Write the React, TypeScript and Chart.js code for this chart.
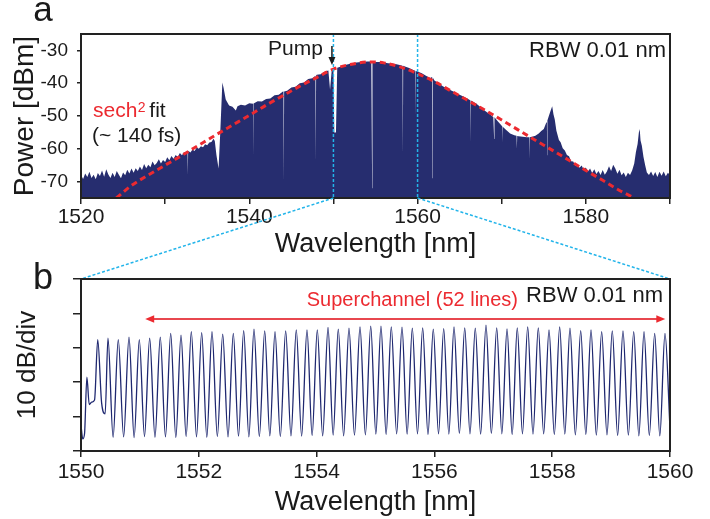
import React, { useEffect, useRef } from 'react';
import { Chart, registerables } from 'chart.js';

Chart.register(...registerables);

const FONT = '"Liberation Sans", Arial, Helvetica, sans-serif';
const INK = '#1a1a1a';
const NAVY = '#262d6f';
const LINE_NAVY = '#1f2870';
const CYAN = '#22b4ea';
const RED = '#ec2a30';
const ARROW_RED = '#e8474f';

// ---------- Panel a : broadband spectrum ----------
const A_X_MIN = 1520;
const A_X_MAX = 1590;
const A_Y_MIN = -75;
const A_Y_MAX = -25;
const A_X_TICK_LABELS = [1520, 1540, 1560, 1580];
const A_Y_TICKS = [-70, -60, -50, -40, -30];
const PUMP_WL = 1550;
const ZOOM_START = 1550;
const ZOOM_END = 1560;

const SPEC_WL = [
  1520.0, 1520.25, 1520.5, 1520.75, 1521.0, 1521.25, 1521.5, 1521.75, 1522.0, 1522.25,
  1522.5, 1522.75, 1523.0, 1523.25, 1523.5, 1523.75, 1524.0, 1524.25, 1524.5, 1524.75,
  1525.0, 1525.25, 1525.5, 1525.75, 1526.0, 1526.25, 1526.5, 1526.75, 1527.0, 1527.25,
  1527.5, 1527.75, 1528.0, 1528.25, 1528.5, 1528.75, 1529.0, 1529.25, 1529.5, 1529.75,
  1530.0, 1530.25, 1530.5, 1530.75, 1531.0, 1531.25, 1531.5, 1531.75, 1532.0, 1532.25,
  1532.5, 1532.75, 1533.0, 1533.25, 1533.5, 1533.75, 1534.0, 1534.25, 1534.5, 1534.75,
  1535.0, 1535.25, 1535.5, 1535.75, 1535.9, 1536.1, 1536.35, 1536.55, 1536.8, 1536.95,
  1537.2, 1537.6, 1538.0, 1538.4, 1538.6, 1539.0, 1539.5, 1540.0, 1540.5, 1541.0,
  1541.5, 1542.0, 1542.5, 1543.0, 1543.5, 1544.0, 1544.5, 1545.0, 1545.5, 1546.0,
  1546.5, 1547.0, 1547.5, 1548.0, 1548.5, 1549.0, 1549.4, 1549.6, 1549.8, 1550.0,
  1550.1, 1550.3, 1550.45, 1551.0, 1551.5, 1552.0, 1552.5, 1553.0, 1553.5, 1554.0,
  1554.5, 1555.0, 1555.5, 1556.0, 1556.5, 1557.0, 1557.5, 1558.0, 1558.5, 1559.0,
  1559.5, 1560.0, 1560.5, 1561.0, 1561.5, 1562.0, 1562.5, 1563.0, 1563.5, 1564.0,
  1564.5, 1565.0, 1565.5, 1566.0, 1566.5, 1567.0, 1567.5, 1568.0, 1568.5, 1569.0,
  1569.5, 1570.0, 1570.5, 1571.0, 1571.5, 1572.0, 1572.5, 1573.0, 1573.5, 1574.0,
  1574.4, 1574.7, 1575.0, 1575.3, 1575.6, 1575.8, 1576.0, 1576.15, 1576.3, 1576.5,
  1576.8, 1577.0, 1577.25, 1577.5, 1577.75, 1578.0, 1578.25, 1578.5, 1578.75, 1579.0,
  1579.25, 1579.5, 1579.75, 1580.0, 1580.25, 1580.5, 1580.75, 1581.0, 1581.25, 1581.5,
  1581.75, 1582.0, 1582.25, 1582.5, 1582.75, 1583.0, 1583.25, 1583.5, 1583.75, 1584.0,
  1584.25, 1584.5, 1584.75, 1585.0, 1585.25, 1585.5, 1585.75, 1585.95, 1586.15, 1586.3,
  1586.4, 1586.5, 1586.65, 1586.85, 1587.05, 1587.25, 1587.5, 1587.75, 1588.0, 1588.25,
  1588.5, 1588.75, 1589.0, 1589.25, 1589.5, 1589.75, 1590.0,
];
const SPEC_DB = [
  -68.0, -69.2, -67.5, -68.6, -67.0, -68.9, -67.9, -69.3, -67.4, -68.3,
  -66.6, -68.5, -66.2, -67.8, -68.9, -67.3, -68.6, -66.8, -67.9, -69.0,
  -67.2, -68.1, -66.4, -67.5, -66.0, -67.3, -65.9, -66.8, -65.4, -66.5,
  -64.6, -65.9, -64.9, -65.6, -63.9, -65.0, -64.3, -63.2, -64.5, -63.4,
  -64.0, -62.6, -63.5, -62.2, -63.0, -61.9, -62.5, -61.3, -62.0, -61.0,
  -61.6, -60.6, -61.1, -60.2, -60.7, -59.6, -60.0, -59.2, -59.5, -58.6,
  -58.9, -58.1, -57.9, -56.9, -57.6, -62.0, -66.0, -55.0, -39.8, -41.5,
  -45.0, -46.8, -47.2, -48.3, -47.0, -46.6, -46.8, -46.1, -46.3, -45.5,
  -45.6, -44.8, -44.7, -43.7, -43.5, -42.5, -42.3, -41.3, -41.1, -40.0,
  -39.8, -38.7, -38.5, -37.4, -37.3, -36.4, -36.1, -42.0, -36.0, -35.8,
  -55.0, -55.0, -35.3, -34.8, -34.4, -34.1, -33.8, -33.6, -33.5, -33.4,
  -33.4, -33.5, -33.5, -33.7, -33.9, -34.0, -34.2, -34.5, -34.9, -35.4,
  -36.0, -36.4, -37.0, -37.7, -38.4, -39.2, -40.0, -40.9, -41.6, -42.2,
  -42.8, -43.5, -44.1, -44.8, -45.5, -46.3, -47.3, -48.4, -49.3, -50.3,
  -51.5, -53.0, -54.2, -55.3, -55.9, -56.2, -56.3, -56.5, -56.4, -56.0,
  -55.3, -54.6, -54.0, -52.0, -50.0, -48.5, -47.0, -49.5, -51.0, -54.5,
  -57.3, -58.0, -59.8, -60.5, -61.9, -62.3, -63.8, -63.9, -65.2, -64.6,
  -65.8, -65.1, -66.4, -65.7, -66.9, -66.0, -67.4, -66.2, -67.7, -66.8,
  -68.0, -66.5, -67.9, -66.9, -65.3, -66.8, -64.9, -66.0, -67.6, -66.4,
  -68.1, -67.2, -68.6, -67.3, -68.0, -66.6, -64.5, -61.0, -58.5, -55.0,
  -54.0, -57.5, -59.0, -62.5, -65.0, -67.2, -68.0, -66.9, -68.3, -67.1,
  -68.6, -67.0, -68.2, -66.9, -68.4, -67.3, -68.0,
];

// narrow drop-outs (thin light streaks inside the spectrum)
const STREAK_WL = [
  1532.66, 1532.7, 1532.73,
  1540.46, 1540.5, 1540.54,
  1544.06, 1544.1, 1544.14,
  1547.86, 1547.9, 1547.94,
  1554.56, 1554.6, 1554.64,
  1558.21, 1558.25, 1558.29,
  1559.72, 1559.76, 1559.8,
  1561.71, 1561.75, 1561.79,
  1566.26, 1566.3, 1566.34,
  1569.06, 1569.1, 1569.14,
  1570.06, 1570.1, 1570.14,
  1571.76, 1571.8, 1571.84,
  1573.26, 1573.3, 1573.34,
  1575.37, 1575.4, 1575.43,
];
const STREAK_DB = [
  -61.3, -68.0, -60.8,
  -46.3, -62.0, -46.2,
  -42.5, -70.0, -42.5,
  -37.7, -64.0, -37.6,
  -33.4, -72.0, -33.4,
  -34.7, -62.0, -34.7,
  -36.2, -50.0, -36.3,
  -38.1, -69.0, -38.2,
  -45.2, -58.0, -45.3,
  -50.3, -57.0, -50.4,
  -53.1, -58.0, -53.3,
  -56.0, -60.0, -56.1,
  -56.5, -63.0, -56.5,
  -51.6, -62.0, -51.4,
];

// sech^2 fit (~140 fs)
const FIT_WL = [
  1524.2, 1526, 1528, 1530, 1532, 1534, 1536, 1538, 1540, 1542, 1544, 1546, 1548,
  1550, 1552, 1554.5, 1556, 1558, 1560, 1562, 1564, 1566, 1568, 1570, 1572, 1574,
  1576, 1578, 1580, 1582, 1584, 1585.8,
];
const FIT_DB = [
  -75.0, -71.2, -68.0, -65.0, -62.0, -58.9, -55.8, -52.8, -49.8, -46.7, -43.8, -40.9, -38.3,
  -35.7, -34.3, -33.5, -33.8, -35.1, -37.1, -39.5, -42.4, -45.3, -48.2, -51.2, -54.3, -57.4,
  -60.4, -63.5, -66.6, -69.6, -72.7, -75.0,
];

// ---------- Panel b : zoomed comb ----------
const B_X_MIN = 1550;
const B_X_MAX = 1560;
const B_Y_MIN = -60;
const B_Y_MAX = -10;
const SUPERCHANNEL_FROM = 1551.09;
const SUPERCHANNEL_TO = 1559.92;

const FRONT_WL = [1550.0, 1550.03, 1550.06, 1550.1, 1550.14, 1550.18, 1550.23, 1550.35];
const FRONT_DB = [-52.5, -56.5, -55.0, -38.5, -46.5, -45.8, -45.2, -46.0];

const PEAK_WL = [
  1550.284, 1550.458, 1550.633, 1550.815, 1550.99, 1551.166, 1551.346, 1551.523, 1551.698, 1551.873,
  1552.049, 1552.224, 1552.406, 1552.586, 1552.762, 1552.937, 1553.119, 1553.294, 1553.475, 1553.655,
  1553.837, 1554.012, 1554.194, 1554.368, 1554.55, 1554.737, 1554.919, 1555.093, 1555.268, 1555.45,
  1555.625, 1555.801, 1555.981, 1556.158, 1556.333, 1556.515, 1556.694, 1556.876, 1557.058, 1557.233,
  1557.407, 1557.584, 1557.764, 1557.946, 1558.127, 1558.302, 1558.484, 1558.659, 1558.84, 1559.02,
  1559.202, 1559.384, 1559.559, 1559.74, 1559.915,
];
const PEAK_DB = [
  -27.6, -27.2, -27.6, -26.9, -27.6, -27.2, -26.9, -25.8, -26.3, -25.3,
  -25.6, -25.3, -26.0, -25.8, -25.0, -24.6, -25.1, -25.3, -25.1, -24.8,
  -24.8, -24.8, -24.1, -24.6, -24.3, -23.9, -23.7, -23.7, -23.9, -24.0,
  -24.3, -24.2, -24.6, -24.4, -23.9, -24.2, -24.3, -23.4, -24.2, -24.5,
  -24.2, -23.9, -24.2, -24.8, -23.9, -24.3, -25.0, -24.8, -25.3, -25.1,
  -25.1, -25.3, -25.3, -25.8, -25.8,
];
const TROUGH_WL = [
  1550.41, 1550.545, 1550.724, 1550.902, 1551.078, 1551.256, 1551.434, 1551.61, 1551.785, 1551.961,
  1552.136, 1552.315, 1552.496, 1552.674, 1552.85, 1553.028, 1553.206, 1553.384, 1553.565, 1553.746,
  1553.924, 1554.103, 1554.281, 1554.459, 1554.643, 1554.828, 1555.006, 1555.18, 1555.359, 1555.537,
  1555.713, 1555.891, 1556.07, 1556.245, 1556.424, 1556.604, 1556.785, 1556.967, 1557.145, 1557.32,
  1557.495, 1557.674, 1557.855, 1558.036, 1558.214, 1558.393, 1558.571, 1558.749, 1558.93, 1559.111,
  1559.293, 1559.471, 1559.649, 1559.827,
];
const TROUGH_DB = [
  -49.2, -56.0, -55.9, -56.1, -55.8, -56.0, -55.9, -56.1, -55.8, -55.9,
  -56.0, -55.8, -55.9, -55.7, -55.9, -55.8, -55.6, -55.8, -55.6, -55.7,
  -55.5, -55.6, -55.4, -55.6, -55.4, -55.3, -55.1, -55.2, -55.0, -55.1,
  -55.0, -55.2, -55.0, -55.1, -54.9, -55.0, -55.1, -54.9, -55.0, -55.2,
  -55.0, -55.1, -55.0, -55.2, -55.1, -55.3, -55.2, -55.4, -55.3, -55.5,
  -55.4, -55.6, -55.5, -55.6,
];
const TAIL_WL = [1560.0];
const TAIL_DB = [-53.5];

function pairs(xs: number[], ys: number[]) {
  return xs.map((x, i) => ({ x, y: ys[i] }));
}

function drawText(
  ctx: CanvasRenderingContext2D,
  s: string,
  x: number,
  y: number,
  size: number,
  color: string,
  align: CanvasTextAlign = 'left',
) {
  ctx.save();
  ctx.font = `${size}px ${FONT}`;
  ctx.fillStyle = color;
  ctx.textAlign = align;
  ctx.textBaseline = 'alphabetic';
  ctx.fillText(s, x, y);
  ctx.restore();
}

const framePlugin = {
  id: 'frame',
  afterDraw(chart: any) {
    const { ctx, chartArea: a } = chart;
    ctx.save();
    ctx.strokeStyle = '#222';
    ctx.lineWidth = 2;
    ctx.strokeRect(a.left, a.top, a.right - a.left, a.bottom - a.top);
    ctx.restore();
  },
};

function dashedLine(ctx: CanvasRenderingContext2D, x1: number, y1: number, x2: number, y2: number) {
  ctx.save();
  ctx.strokeStyle = CYAN;
  ctx.lineWidth = 1.5;
  ctx.setLineDash([3, 2]);
  ctx.beginPath();
  ctx.moveTo(x1, y1);
  ctx.lineTo(x2, y2);
  ctx.stroke();
  ctx.restore();
}

export default function App() {
  const refA = useRef<HTMLCanvasElement>(null);
  const refB = useRef<HTMLCanvasElement>(null);

  useEffect(() => {
    const tickFont = { family: FONT, size: 21 };

    const annotA = {
      id: 'annotA',
      afterDatasetsDraw(chart: any) {
        const { ctx, chartArea: a, scales } = chart;
        [ZOOM_START, ZOOM_END].forEach((wl) => {
          const x = scales.x.getPixelForValue(wl);
          dashedLine(ctx, x, a.top, x, a.bottom);
        });
      },
      afterDraw(chart: any) {
        const { ctx, chartArea: a, scales } = chart;
        drawText(ctx, 'a', 43, 21, 35, INK, 'center');
        // Pump label + arrow
        const px = scales.x.getPixelForValue(PUMP_WL) - 1.5;
        drawText(ctx, 'Pump', px - 9, a.top + 21, 21, INK, 'right');
        ctx.save();
        ctx.strokeStyle = INK;
        ctx.fillStyle = INK;
        ctx.lineWidth = 1.5;
        ctx.beginPath();
        ctx.moveTo(px, a.top + 12);
        ctx.lineTo(px, a.top + 25);
        ctx.stroke();
        ctx.beginPath();
        ctx.moveTo(px - 3.5, a.top + 23);
        ctx.lineTo(px + 3.5, a.top + 23);
        ctx.lineTo(px, a.top + 31);
        ctx.closePath();
        ctx.fill();
        ctx.restore();
        drawText(ctx, 'RBW 0.01 nm', a.right - 4, a.top + 23, 22, INK, 'right');
        // sech^2 fit label
        ctx.save();
        ctx.font = `21px ${FONT}`;
        const x0 = a.left + 12;
        const y0 = a.top + 83;
        const wSech = ctx.measureText('sech').width;
        ctx.restore();
        drawText(ctx, 'sech', x0, y0, 21, RED);
        drawText(ctx, '2', x0 + wSech + 0.5, y0 - 5, 14, RED);
        drawText(ctx, 'fit', x0 + wSech + 12, y0, 21, INK);
        drawText(ctx, '(~ 140 fs)', x0 - 1, y0 + 25, 21, INK);
      },
    };

    const specPoints = pairs([...SPEC_WL, ...STREAK_WL], [...SPEC_DB, ...STREAK_DB]).sort(
      (p, q) => p.x - q.x,
    );

    const chartA = new Chart(refA.current as HTMLCanvasElement, {
      type: 'line',
      data: {
        datasets: [
          {
            label: 'sech2 fit',
            data: pairs(FIT_WL, FIT_DB),
            borderColor: RED,
            borderWidth: 3,
            borderDash: [6, 4],
            pointRadius: 0,
            fill: false,
            tension: 0.4,
            cubicInterpolationMode: 'monotone',
          },
          {
            label: 'spectrum',
            data: specPoints,
            borderColor: NAVY,
            backgroundColor: NAVY,
            borderWidth: 0,
            pointRadius: 0,
            fill: 'start',
            tension: 0,
          },
        ],
      },
      options: {
        animation: false,
        responsive: false,
        devicePixelRatio: 1,
        layout: { padding: { left: 0, top: 34, right: 40, bottom: 258 } },
        plugins: { legend: { display: false }, tooltip: { enabled: false } },
        scales: {
          x: {
            type: 'linear',
            min: A_X_MIN,
            max: A_X_MAX,
            ticks: {
              stepSize: 10,
              autoSkip: false,
              maxRotation: 0,
              padding: 1,
              font: tickFont,
              color: INK,
              callback: (v: any) => (A_X_TICK_LABELS.includes(Number(v)) ? String(v) : ''),
            },
            grid: { drawOnChartArea: false, tickLength: 6, color: '#222', lineWidth: 1.5 },
            border: { display: false },
            title: {
              display: true,
              text: 'Wavelength [nm]',
              font: { family: FONT, size: 27 },
              color: INK,
              padding: { top: 0, bottom: 0 },
            },
            afterFit: (s: any) => {
              s.height = 63;
            },
          },
          y: {
            min: A_Y_MIN,
            max: A_Y_MAX,
            ticks: {
              padding: 9,
              font: { family: FONT, size: 19 },
              color: INK,
              callback: (v: any) => String(v),
            },
            grid: { drawOnChartArea: false, tickLength: 4, color: '#222', lineWidth: 1.5 },
            border: { display: false },
            title: {
              display: true,
              text: 'Power [dBm]',
              font: { family: FONT, size: 28 },
              color: INK,
              padding: { top: 8, bottom: 0 },
            },
            afterBuildTicks: (s: any) => {
              s.ticks = A_Y_TICKS.map((v) => ({ value: v }));
            },
            afterFit: (s: any) => {
              s.width = 81;
            },
          },
        },
      },
      plugins: [annotA, framePlugin],
    } as any);

    const annotB = {
      id: 'annotB',
      afterDraw(chart: any) {
        const { ctx, chartArea: a, scales } = chart;
        drawText(ctx, 'b', 43, 289, 36, INK, 'center');
        drawText(ctx, 'RBW 0.01 nm', a.right - 7, a.top + 23, 22, INK, 'right');
        drawText(ctx, 'Superchannel (52 lines)', 518, a.top + 27, 20, RED, 'right');
        // double arrow
        const x1 = scales.x.getPixelForValue(SUPERCHANNEL_FROM);
        const x2 = scales.x.getPixelForValue(SUPERCHANNEL_TO);
        const y = a.top + 40;
        ctx.save();
        ctx.strokeStyle = ARROW_RED;
        ctx.fillStyle = RED;
        ctx.lineWidth = 2;
        ctx.beginPath();
        ctx.moveTo(x1 + 6, y);
        ctx.lineTo(x2 - 6, y);
        ctx.stroke();
        ctx.beginPath();
        ctx.moveTo(x1, y);
        ctx.lineTo(x1 + 9, y - 3.8);
        ctx.lineTo(x1 + 9, y + 3.8);
        ctx.closePath();
        ctx.fill();
        ctx.beginPath();
        ctx.moveTo(x2, y);
        ctx.lineTo(x2 - 9, y - 3.8);
        ctx.lineTo(x2 - 9, y + 3.8);
        ctx.closePath();
        ctx.fill();
        ctx.restore();
        // connectors from panel a zoom window
        const aArea = chartA.chartArea;
        const ax1 = chartA.scales.x.getPixelForValue(ZOOM_START);
        const ax2 = chartA.scales.x.getPixelForValue(ZOOM_END);
        dashedLine(ctx, ax1, aArea.bottom, scales.x.getPixelForValue(ZOOM_START), a.top);
        dashedLine(ctx, ax2, aArea.bottom, scales.x.getPixelForValue(ZOOM_END), a.top);
      },
    };

    const combPoints = pairs(
      [...FRONT_WL, ...PEAK_WL, ...TROUGH_WL, ...TAIL_WL],
      [...FRONT_DB, ...PEAK_DB, ...TROUGH_DB, ...TAIL_DB],
    ).sort((p, q) => p.x - q.x);

    const chartB = new Chart(refB.current as HTMLCanvasElement, {
      type: 'line',
      data: {
        datasets: [
          {
            label: 'comb',
            data: combPoints,
            borderColor: LINE_NAVY,
            borderWidth: 1.3,
            pointRadius: 0,
            fill: false,
            cubicInterpolationMode: 'monotone',
          },
        ],
      },
      options: {
        animation: false,
        responsive: false,
        devicePixelRatio: 1,
        layout: { padding: { left: 0, top: 279, right: 40, bottom: 0 } },
        plugins: { legend: { display: false }, tooltip: { enabled: false } },
        scales: {
          x: {
            type: 'linear',
            min: B_X_MIN,
            max: B_X_MAX,
            ticks: {
              stepSize: 2,
              autoSkip: false,
              maxRotation: 0,
              padding: 3,
              font: tickFont,
              color: INK,
              callback: (v: any) => String(v),
            },
            grid: { drawOnChartArea: false, tickLength: 6, color: '#222', lineWidth: 1.5 },
            border: { display: false },
            title: {
              display: true,
              text: 'Wavelength [nm]',
              font: { family: FONT, size: 27 },
              color: INK,
              padding: { top: 0, bottom: 0 },
            },
            afterFit: (s: any) => {
              s.height = 68;
            },
          },
          y: {
            min: B_Y_MIN,
            max: B_Y_MAX,
            ticks: { stepSize: 10, display: false },
            grid: { drawOnChartArea: false, tickLength: 8, color: '#222', lineWidth: 1.5 },
            border: { display: false },
            title: {
              display: true,
              text: '10 dB/div',
              font: { family: FONT, size: 26 },
              color: INK,
              padding: { top: 12, bottom: 0 },
            },
            afterFit: (s: any) => {
              s.width = 81;
            },
          },
        },
      },
      plugins: [annotB, framePlugin],
    } as any);

    return () => {
      chartB.destroy();
      chartA.destroy();
    };
  }, []);

  return (
    <div style={{ position: 'fixed', left: 0, top: 0, width: 710, height: 519, background: '#fff' }}>
      <canvas ref={refA} width={710} height={519} style={{ position: 'absolute', left: 0, top: 0 }} />
      <canvas ref={refB} width={710} height={519} style={{ position: 'absolute', left: 0, top: 0 }} />
    </div>
  );
}
